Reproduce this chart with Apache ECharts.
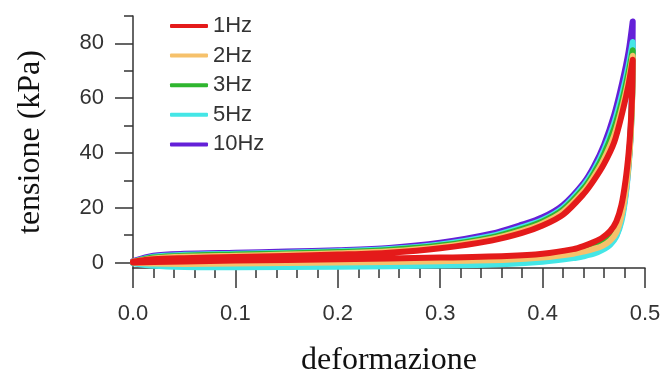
<!DOCTYPE html>
<html>
<head>
<meta charset="utf-8">
<script src="https://cdn.jsdelivr.net/npm/echarts@6/dist/echarts.min.js"></script>
<style>
  html, body { margin: 0; padding: 0; background: #fff; }
  #chart { width: 664px; height: 373px; }
</style>
</head>
<body>
<div id="chart"></div>
<script>
// strain values shared by the loading and unloading branches
var loadX = [0, 0.02, 0.05, 0.1, 0.15, 0.2, 0.25, 0.3, 0.35, 0.38, 0.4, 0.42, 0.44, 0.45, 0.46, 0.47, 0.478, 0.484, 0.488];
var unloadX = [0.488, 0.4875, 0.486, 0.484, 0.481, 0.477, 0.472, 0.466, 0.458, 0.45, 0.44, 0.43, 0.4, 0.365, 0.3, 0.2, 0.1, 0.05, 0.02, 0];

var names = ['1Hz', '2Hz', '3Hz', '5Hz', '10Hz'];
var colors = ['#e41a1a', '#f6c16b', '#2fb62f', '#44e6e6', '#6420d8'];

// tensione (kPa) while loading
var load1 = [0.3, 1.2, 1.6, 2.0, 2.4, 2.9, 3.6, 5.2, 8.0, 10.8, 13.5, 17.5, 25, 30, 36, 44, 55, 65, 74];
var load2 = [0.3, 1.5, 2.1, 2.5, 2.9, 3.4, 4.1, 5.7, 8.6, 11.6, 14.3, 18.5, 26, 31.3, 37.8, 46.5, 57, 67, 75.5];
var load3 = [0.3, 1.8, 2.5, 2.9, 3.3, 3.8, 4.6, 6.2, 9.2, 12.3, 15, 19.3, 27, 32.5, 39.5, 49, 59.5, 69.5, 77.5];
var load5 = [0.3, 2.1, 2.8, 3.2, 3.6, 4.1, 4.9, 6.6, 9.7, 12.9, 15.5, 20, 28, 33.5, 41, 51, 62, 72, 80.5];
var load10 = [0.5, 2.5, 3.2, 3.6, 4.0, 4.5, 5.3, 7.2, 10.5, 13.8, 16.5, 21, 29, 35, 43, 54, 66, 77, 88];

// tensione (kPa) while unloading
var unload1 = [74, 62, 50, 40, 30, 21, 15, 11.5, 9, 7.5, 6, 4.9, 3.2, 2.4, 1.8, 1.2, 0.7, 0.4, 0.2, 0];
var unload2 = [75.5, 60, 46, 36, 26, 17, 11, 8, 6, 5, 4, 3.2, 1.8, 1.0, 0.5, 0, -0.4, -0.5, -0.4, 0];
var unload3 = [77.5, 61, 47, 37, 27, 18, 12, 9, 7, 5.8, 4.8, 4, 2.4, 1.6, 1.1, 0.5, 0, -0.1, 0, 0];
var unload5 = [80.5, 62, 46, 35, 24, 15, 9.5, 6.5, 4.5, 3.2, 2.3, 1.6, 0.3, -0.5, -1.1, -1.5, -1.7, -1.6, -1.2, -0.3];
var unload10 = [88, 66, 48, 36, 25, 16, 10, 7, 5, 3.7, 2.8, 2.0, 0.7, 0, -0.6, -1.0, -1.2, -1.1, -0.8, 0];

var yMajor = [0, 20, 40, 60, 80];
var yMinor = [10, 30, 50, 70, 90];

var loads = [load1, load2, load3, load5, load10];
var unloads = [unload1, unload2, unload3, unload5, unload10];

function loop(load, unload) {
    var pts = [];
    for (var i = 0; i < loadX.length; i++) pts.push([loadX[i], load[i]]);
    for (var j = 1; j < unloadX.length; j++) pts.push([unloadX[j], unload[j]]);
    return pts;
}

var series = names.map(function (n, i) {
    return {
        name: n,
        type: 'line',
        data: loop(loads[i], unloads[i]),
        symbol: 'none',
        smooth: 0.3,
        z: 7 - i,
        lineStyle: { color: colors[i], width: 6, cap: 'round', join: 'round' },
        itemStyle: { color: colors[i] }
    };
});

var chart = echarts.init(document.getElementById('chart'));
chart.setOption({
    animation: false,
    grid: { left: 133, right: 19, top: 16, bottom: 105, outerBoundsMode: 'none', containLabel: false },
    legend: {
        orient: 'vertical',
        left: 165,
        top: 10,
        icon: 'roundRect',
        itemWidth: 38,
        itemHeight: 4,
        itemGap: 7.6,
        itemStyle: { borderWidth: 0 },
        lineStyle: { width: 4, cap: 'round' },
        textStyle: { fontFamily: 'Liberation Sans', fontSize: 22, color: '#333', lineHeight: 22 }
    },
    xAxis: {
        type: 'value',
        min: 0,
        max: 0.5,
        interval: 0.1,
        name: 'deformazione',
        nameLocation: 'middle',
        nameGap: 77,
        nameTextStyle: { fontFamily: 'Liberation Serif', fontSize: 32, color: '#111' },
        axisLine: { onZero: false, lineStyle: { color: '#333', width: 1.5 } },
        axisTick: { inside: false, length: 20, lineStyle: { color: '#333', width: 1.5 } },
        minorTick: { show: true, splitNumber: 5, length: 10, lineStyle: { color: '#333', width: 1.5 } },
        axisLabel: {
            margin: 35,
            fontFamily: 'Liberation Sans', fontSize: 22, color: '#333',
            formatter: function (v) { return v.toFixed(1); }
        },
        splitLine: { show: false }
    },
    yAxis: [{
        type: 'value',
        min: -2,
        max: 90,
        name: 'tensione (kPa)',
        nameLocation: 'middle',
        nameGap: 86,
        nameTextStyle: { fontFamily: 'Liberation Serif', fontSize: 32, color: '#111' },
        axisLine: { show: true, lineStyle: { color: '#333', width: 1.5 } },
        axisTick: { show: true, length: 18, customValues: yMajor, lineStyle: { color: '#333', width: 1.5 } },
        axisLabel: { margin: 29, customValues: yMajor, fontFamily: 'Liberation Sans', fontSize: 22, color: '#333' },
        splitLine: { show: false }
    }, {
        type: 'value',
        position: 'left',
        min: -2,
        max: 90,
        axisLine: { show: false },
        axisTick: { show: true, length: 9, customValues: yMinor, lineStyle: { color: '#333', width: 1.5 } },
        axisLabel: { show: false },
        splitLine: { show: false }
    }],
    series: series
});
</script>
</body>
</html>
